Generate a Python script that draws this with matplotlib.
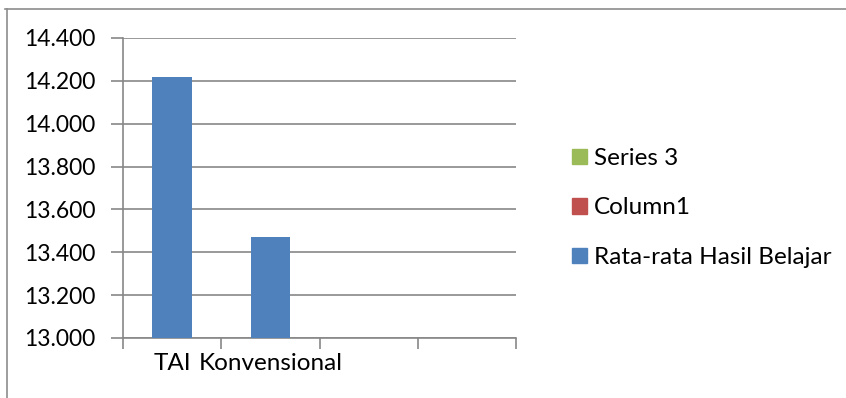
import numpy as np
import matplotlib
matplotlib.use("Agg")
import matplotlib.pyplot as plt
from matplotlib.lines import Line2D
from matplotlib.patches import Patch

plt.rcParams['font.family'] = ['Lato', 'DejaVu Sans']

# data
kategori = ['TAI', 'Konvensional', '', '']
nama_seri = ['Rata-rata Hasil Belajar', 'Column1', 'Series 3']
rata_rata = [14.22, 13.47, np.nan, np.nan]
column1 = [np.nan, np.nan, np.nan, np.nan]
series3 = [np.nan, np.nan, np.nan, np.nan]
warna = ['#4F81BD', '#C0504D', '#9BBB59']
y_ticks = [13.0, 13.2, 13.4, 13.6, 13.8, 14.0, 14.2, 14.4]

W, H = 846, 398
fig = plt.figure(figsize=(W / 100, H / 100), dpi=100)

# bingkai luar (sebagian terpotong)
abu = '#8C8C8C'
fig.add_artist(Line2D([5 / W, 1], [1 - 9 / H, 1 - 9 / H], color=abu, lw=1.2))
fig.add_artist(Line2D([7 / W, 7 / W], [0, 1 - 9 / H], color=abu, lw=1.2))

x0, x1, ytop, ybot = 123, 516, 38, 338
ax = fig.add_axes([x0 / W, 1 - ybot / H, (x1 - x0) / W, (ybot - ytop) / H])

x = np.arange(len(kategori))
lebar = 0.4
semua = [rata_rata, column1, series3]
for nilai, nama, c in zip(semua, nama_seri, warna):
    ax.bar(x, nilai, width=lebar, color=c, label=nama, zorder=3)

ax.set_ylim(13.0, 14.4)
ax.set_xlim(-0.5, len(kategori) - 0.5)
ax.set_yticks(y_ticks)
ax.set_yticklabels(['{:.3f}'.format(v) for v in y_ticks])
ax.yaxis.grid(True, color='#878787', lw=1.2, zorder=0)

ax.set_xticks(np.arange(len(kategori) + 1) - 0.5)
ax.set_xticklabels([])
ax.set_xticks(x, minor=True)
ax.set_xticklabels(kategori, minor=True)

ax.tick_params(axis='y', length=9, width=1.2, color='#878787', labelsize=16.5, pad=11)
ax.tick_params(axis='x', which='major', length=8, width=1.2, color='#878787')
ax.tick_params(axis='x', which='minor', length=0, labelsize=17.5, pad=11)

for s in ['top', 'right']:
    ax.spines[s].set_visible(False)
for s in ['left', 'bottom']:
    ax.spines[s].set_color('#878787')
    ax.spines[s].set_linewidth(1.2)

handles = [Patch(color=c) for c in warna][::-1]
leg = fig.legend(handles, nama_seri[::-1], loc='upper left',
                 bbox_to_anchor=(572 / W, 1 - 148 / H), frameon=False,
                 fontsize=17.5, borderpad=0, borderaxespad=0,
                 handlelength=0.6, handleheight=0.6, handletextpad=0.3,
                 labelspacing=1.17)

fig.savefig('out.png', dpi=100)
